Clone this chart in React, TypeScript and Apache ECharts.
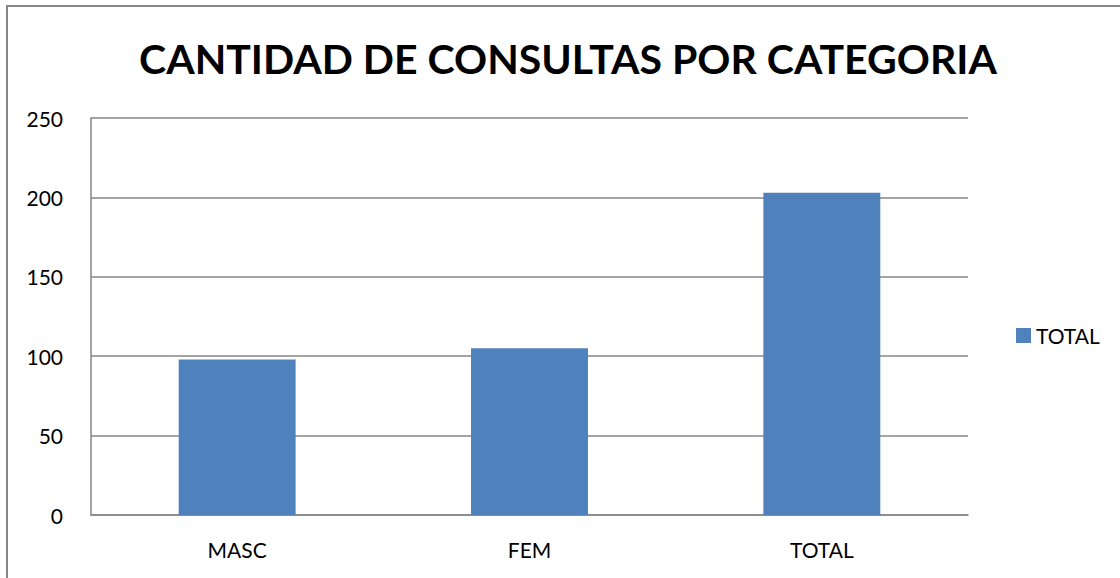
import React, { useEffect, useRef } from "react";
import * as echarts from "echarts";

const categories = ["MASC", "FEM", "TOTAL"];
const totalValues = [98, 105, 203];
const seriesName = "TOTAL";
const titleText = "CANTIDAD DE CONSULTAS POR CATEGORIA";

export default function App() {
  const ref = useRef<HTMLDivElement>(null);
  useEffect(() => {
    if (!ref.current) return;
    const chart = echarts.init(ref.current, null, { renderer: "svg" });
    const font = "Lato, 'Open Sans', sans-serif";
    chart.setOption({
      animation: false,
      backgroundColor: "#ffffff",
      title: {
        text: titleText,
        left: 563,
        textAlign: "center",
        top: 33,
        textStyle: { fontFamily: font, fontWeight: "bold", fontSize: 41, color: "#000" },
      },
      legend: {
        data: [seriesName],
        left: 1011,
        top: 320,
        itemWidth: 15,
        itemHeight: 15,
        itemGap: 6,
        icon: "rect",
        textStyle: { fontFamily: font, fontSize: 21, color: "#000" },
      },
      grid: { left: 91, right: 152, top: 118, bottom: 63, containLabel: false },
      xAxis: {
        type: "category",
        data: categories,
        axisLine: { lineStyle: { color: "#868686", width: 1.5 } },
        axisTick: { show: false },
        axisLabel: { fontFamily: font, fontSize: 21, color: "#000", margin: 24 },
      },
      yAxis: {
        type: "value",
        min: 0,
        max: 250,
        interval: 50,
        axisLine: { show: true, lineStyle: { color: "#868686", width: 1.5 } },
        axisTick: { show: false },
        splitLine: { lineStyle: { color: "#868686", width: 1.5 } },
        axisLabel: { fontFamily: font, fontSize: 21, color: "#000", margin: 28 },
      },
      series: [
        {
          name: seriesName,
          type: "bar",
          data: totalValues,
          barWidth: "40%",
          itemStyle: { color: "#4F81BD" },
        },
      ],
      graphic: [
        {
          type: "rect",
          shape: { x: 7, y: 6, width: 1300, height: 800 },
          style: { fill: "none", stroke: "#868686", lineWidth: 2 },
          silent: true,
        },
      ],
    });
    return () => chart.dispose();
  }, []);
  return (
    <div
      ref={ref}
      style={{ position: "absolute", left: 0, top: 0, width: 1120, height: 578 }}
    />
  );
}
